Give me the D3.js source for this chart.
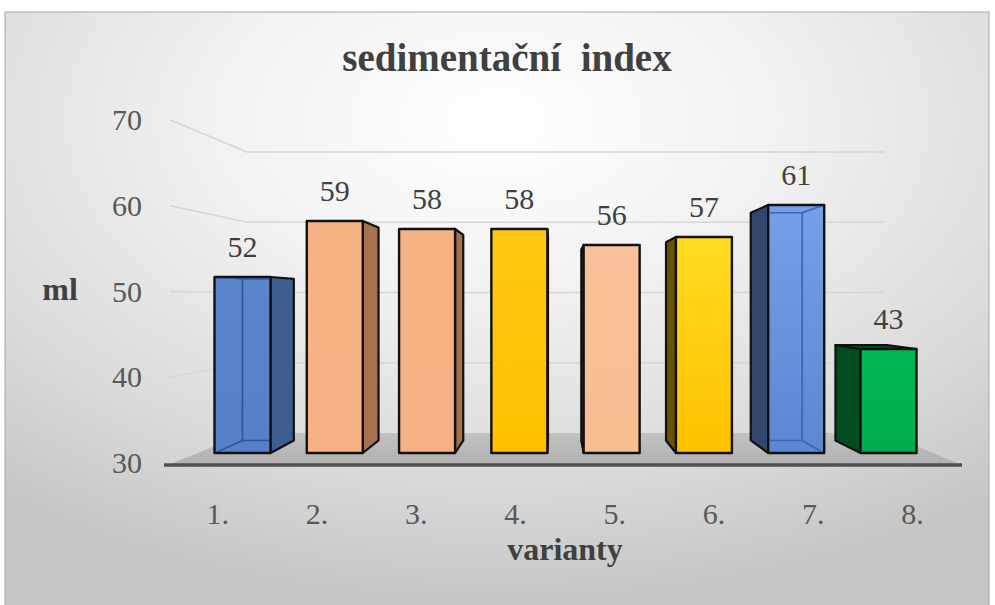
<!DOCTYPE html>
<html>
<head>
<meta charset="utf-8">
<script src="https://cdn.jsdelivr.net/npm/d3@7"></script>
<style>
  html, body { margin: 0; padding: 0; background: #ffffff; }
  svg { display: block; }
</style>
</head>
<body>
<svg id="chart" width="995" height="605"></svg>
<script>
// ---- data ----
const categories = ["1.", "2.", "3.", "4.", "5.", "6.", "7.", "8."];
const values = [52, 59, 58, 58, 56, 57, 61, 43];
const yTicks = [30, 40, 50, 60, 70];
const gridValues = [40, 50, 60, 70];
const title = "sedimentační index";
const yTitle = "ml";
const xTitle = "varianty";

// ---- styles (per bar) ----
const palette = [
  { front: ["#5a84cb", "#557fc6"], side: "#3d5c90", inner: "#2f5597", transparent: true },
  { front: ["#f5b384", "#f4b183"], side: "#a6714d" },
  { front: ["#f5b384", "#f4b183"], side: "#a6714d" },
  { front: ["#ffc812", "#ffc000"], side: "#9c7400" },
  { front: ["#fac19a", "#f8bd90"], side: "#a87a55" },
  { front: ["#ffdc22", "#ffc000"], side: "#6b5200" },
  { front: ["#74a0ea", "#5b87d2"], side: "#33466c", inner: "#3a64ad", transparent: true },
  { front: ["#00b653", "#00ad4e"], side: "#004d21" }
];
const FONT = "'Liberation Serif', 'Times New Roman', Times, serif";

const svg = d3.select("#chart");
const defs = svg.append("defs");

// background gradient
const bg = defs.append("radialGradient").attr("id", "bgGrad")
  .attr("cx", "50%").attr("cy", "18%").attr("r", "80%")
  .attr("fx", "50%").attr("fy", "18%");
bg.append("stop").attr("offset", "0").attr("stop-color", "#ffffff");
bg.append("stop").attr("offset", "0.35").attr("stop-color", "#f2f2f2");
bg.append("stop").attr("offset", "0.75").attr("stop-color", "#dadada");
bg.append("stop").attr("offset", "1").attr("stop-color", "#c6c6c6");

svg.append("rect").attr("x", 5).attr("y", 12).attr("width", 984).attr("height", 600)
  .attr("fill", "url(#bgGrad)").attr("stroke", "#a8a8a8").attr("stroke-width", 1);

// ---- scales ----
const yFront = d3.scaleLinear().domain([30, 70]).range([463, 120]);   // front plane (tick labels)
const yBack = d3.scaleLinear().domain([30, 70]).range([433, 152]);    // back wall
const yBar = d3.scaleLinear().domain([30, 70]).range([453, 133]);     // bar front faces
const xBar = d3.scalePoint().domain(categories).range([242.5, 888.5]);
const xLab = d3.scaleBand().domain(categories).range([168, 962]);
const barW = 56;

// perspective
const vx = 555, vy = 300, k = 0.918;
const back = ([x, y]) => [vx + (x - vx) * k, vy + (y - vy) * k];
const line = d3.line();

// ---- floor ----
const floorFront = [xLab.range()[0], yFront(30) + 2];
const floorFrontR = [xLab.range()[1], yFront(30) + 2];
const wallL = 247, wallR = 885;
const fg = defs.append("linearGradient").attr("id", "floorGrad").attr("x1", 0).attr("y1", 0).attr("x2", 0).attr("y2", 1);
fg.append("stop").attr("offset", 0).attr("stop-color", "#c2c2c2");
fg.append("stop").attr("offset", 1).attr("stop-color", "#b0b0b0");
svg.append("path")
  .attr("d", line([floorFront, floorFrontR, [wallR, yBack(30)], [wallL, yBack(30)]]) + "Z")
  .attr("fill", "url(#floorGrad)");
svg.append("line").attr("x1", floorFront[0] - 4).attr("x2", floorFrontR[0])
  .attr("y1", floorFront[1]).attr("y2", floorFront[1])
  .attr("stroke", "#505050").attr("stroke-width", 3.5);

// ---- gridlines (back wall + left wall) ----
svg.append("g").selectAll("path").data(gridValues).join("path")
  .attr("d", v => line([[170, yFront(v)], [wallL, yBack(v)], [wallR, yBack(v)]]))
  .attr("fill", "none").attr("stroke", "#d6d6d6").attr("stroke-width", 1.6);

// ---- y tick labels ----
svg.append("g").selectAll("text").data(yTicks).join("text")
  .attr("x", 142).attr("y", v => yFront(v) + 10)
  .attr("text-anchor", "end").attr("font-family", FONT).attr("font-size", 30).attr("fill", "#595959")
  .text(v => v);

// ---- bars ----
const bars = svg.append("g");
categories.forEach((c, i) => {
  const v = values[i];
  const p = palette[i];
  const xc = xBar(c);
  const x0 = xc - barW / 2, x1 = xc + barW / 2;
  const yT = yBar(v), yB = yBar(30);
  const FL = [x0, yT], FR = [x1, yT], BR = [x1, yB], BL = [x0, yB];
  const bFL = back(FL), bFR = back(FR), bBR = back(BR), bBL = back(BL);
  const g = bars.append("g");

  const gid = "fg" + i;
  const gr = defs.append("linearGradient").attr("id", gid).attr("x1", 0).attr("y1", 0).attr("x2", 0).attr("y2", 1);
  gr.append("stop").attr("offset", 0).attr("stop-color", p.front[0]);
  gr.append("stop").attr("offset", 1).attr("stop-color", p.front[1]);

  // side face
  let side = null;
  if (x1 < vx) side = [FR, BR, bBR, bFR];
  else if (x0 > vx) side = [FL, BL, bBL, bFL];
  if (side) {
    g.append("path").attr("d", line(side) + "Z")
      .attr("fill", p.side)
      .attr("stroke", "#111").attr("stroke-width", 2.2).attr("stroke-linejoin", "round");
  }
  // top face (visible when below eye level)
  if (yT > vy) {
    g.append("path").attr("d", line([FL, FR, bFR, bFL]) + "Z")
      .attr("fill", p.side).attr("stroke", "#111").attr("stroke-width", 2.2)
      .attr("stroke-linejoin", "round");
  }
  // front face
  g.append("rect").attr("x", x0).attr("y", yT).attr("width", barW).attr("height", yB - yT)
    .attr("fill", `url(#${gid})`)
    .attr("stroke", "#111").attr("stroke-width", 2.4).attr("stroke-linejoin", "round");

  if (p.transparent) {
    // hidden back edges seen through the glassy bar
    const clipId = "clip" + i;
    defs.append("clipPath").attr("id", clipId).append("rect")
      .attr("x", x0 + 1.2).attr("y", yT + 1.2).attr("width", barW - 2.4).attr("height", yB - yT - 2.4);
    const inner = g.append("g").attr("clip-path", `url(#${clipId})`)
      .attr("fill", "none").attr("stroke", p.inner).attr("stroke-width", 1.6);
    inner.append("path").attr("d", line([bFL, bFR, bBR, bBL]) + "Z");
    inner.append("path").attr("d", line([BL, bBL]));
    inner.append("path").attr("d", line([BR, bBR]));
    inner.append("path").attr("d", line([FL, bFL]));
    inner.append("path").attr("d", line([FR, bFR]));
  }

  // data label
  svg.append("text").attr("x", xc).attr("y", yT - 20)
    .attr("text-anchor", "middle").attr("font-family", FONT).attr("font-size", 30).attr("fill", "#404040")
    .text(v);
});

// ---- category labels ----
svg.append("g").selectAll("text").data(categories).join("text")
  .attr("x", d => xLab(d) + xLab.bandwidth() / 2).attr("y", 524)
  .attr("text-anchor", "middle").attr("font-family", FONT).attr("font-size", 30).attr("fill", "#595959")
  .text(d => d);

// ---- titles ----
svg.append("text").attr("x", 507).attr("y", 71).attr("text-anchor", "middle")
  .attr("font-family", FONT).attr("font-size", 39).attr("font-weight", "bold").attr("fill", "#404040")
  .attr("xml:space", "preserve")
  .text(title.replace(" ", "  "));
svg.append("text").attr("x", 60).attr("y", 300).attr("text-anchor", "middle")
  .attr("font-family", FONT).attr("font-size", 32).attr("font-weight", "bold").attr("fill", "#404040")
  .text(yTitle);
svg.append("text").attr("x", 565).attr("y", 560).attr("text-anchor", "middle")
  .attr("font-family", FONT).attr("font-size", 32).attr("font-weight", "bold").attr("fill", "#404040")
  .text(xTitle);
</script>
</body>
</html>
